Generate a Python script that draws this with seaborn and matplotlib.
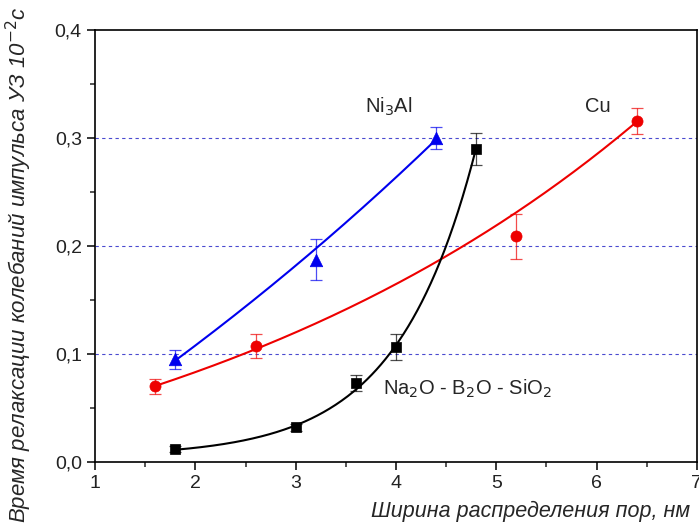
import numpy as np
import pandas as pd
import matplotlib
matplotlib.use('Agg')
import matplotlib.pyplot as plt
import seaborn as sns
from matplotlib.ticker import FuncFormatter, MultipleLocator

# Данные
ni_x = [1.8, 3.2, 4.4]
ni_y = [0.095, 0.187, 0.300]
ni_err = [0.009, 0.019, 0.010]

cu_x = [1.6, 2.6, 5.2, 6.4]
cu_y = [0.070, 0.107, 0.209, 0.316]
cu_err = [0.007, 0.011, 0.021, 0.012]

na_x = [1.8, 3.0, 3.6, 4.0, 4.8]
na_y = [0.012, 0.032, 0.073, 0.106, 0.290]
na_err = [0.003, 0.003, 0.007, 0.012, 0.015]


def exp_fit(x, y, err, tmin=0.2, wpow=1):
    # y = y0 + A*exp(x/t), взвешенный МНК, t перебором
    x = np.asarray(x, float)
    y = np.asarray(y, float)
    w = 1.0 / np.asarray(err, float) ** wpow
    best = None
    for t in np.linspace(tmin, 20, 2000):
        M = np.column_stack([np.ones_like(x), np.exp(x / t)])
        coef, *_ = np.linalg.lstsq(M * w[:, None], y * w, rcond=None)
        r = np.sum(((M @ coef - y) * w) ** 2)
        if best is None or r < best[0]:
            best = (r, t, coef)
    _, t, coef = best
    xs = np.linspace(x.min(), x.max(), 200)
    return xs, coef[0] + coef[1] * np.exp(xs / t)


sns.set_style('ticks')
plt.rcParams['font.family'] = ['Liberation Sans', 'DejaVu Sans']

fig = plt.figure(figsize=(6.99, 5.26), dpi=100)
ax = fig.add_axes([0.136, 0.122, 0.861, 0.821])

series = [
    (ni_x, ni_y, ni_err, '#0000ee', '^', 9, 10.0, 1),
    (cu_x, cu_y, cu_err, '#ee0000', 'o', 8, 0.2, 2),
    (na_x, na_y, na_err, 'black', 's', 6.5, 0.2, 1),
]

for x, y, e, c, m, ms, tmin, wp in series:
    xs, ys = exp_fit(x, y, e, tmin, wp)
    fit = pd.DataFrame({'x': xs, 'y': ys})
    sns.lineplot(data=fit, x='x', y='y', color=c, lw=1.5, ax=ax)
    ax.errorbar(x, y, yerr=e, fmt='none', ecolor=c, elinewidth=0.9,
                capsize=4, capthick=0.9, alpha=0.7, zorder=3)
    sns.scatterplot(x=x, y=y, color=c, marker=m, s=ms ** 2,
                    edgecolor=c, linewidth=0.5, ax=ax, zorder=4)

for yy in [0.1, 0.2, 0.3]:
    ax.axhline(yy, color='#4a4ad0', ls=(0, (3, 3)), lw=0.8, zorder=1)

ax.set_xlim(1, 7)
ax.set_ylim(0, 0.4)
ax.xaxis.set_major_locator(MultipleLocator(1))
ax.xaxis.set_minor_locator(MultipleLocator(0.5))
ax.yaxis.set_major_locator(MultipleLocator(0.1))
ax.yaxis.set_minor_locator(MultipleLocator(0.05))
ax.yaxis.set_major_formatter(FuncFormatter(lambda v, p: f'{v:.1f}'.replace('.', ',')))
ax.tick_params(which='major', direction='out', length=6, width=1.1,
               labelsize=14, colors='black', labelcolor='#222222')
ax.tick_params(which='minor', direction='out', length=3.5, width=1.1)
for s in ax.spines.values():
    s.set_linewidth(1.2)
    s.set_color('black')

ax.text(3.69, 0.329, 'Ni$_3$Al', fontsize=14.5, va='center')
ax.text(5.88, 0.329, 'Cu', fontsize=14.5, va='center')
ax.text(3.87, 0.062, 'Na$_2$O - B$_2$O - SiO$_2$', fontsize=14.5)

ax.set_xlabel('')
ax.set_ylabel('')
fig.text(0.987, 0.008, 'Ширина распределения пор, нм', fontsize=15.5,
         style='italic', ha='right', va='bottom')
fig.text(0.027, 0.005, 'Время релаксации колебаний импульса УЗ 10$^{-2}$с',
         fontsize=16, style='italic', rotation=90, ha='center', va='bottom')

fig.savefig('out.png', dpi=100)
